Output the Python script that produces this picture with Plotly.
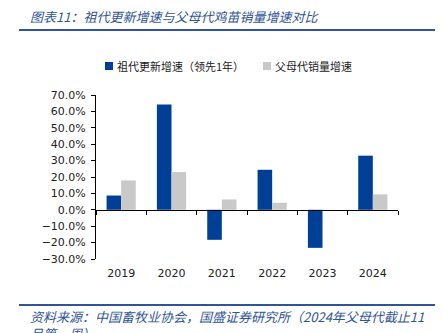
import plotly.graph_objects as go

years = ["2019", "2020", "2021", "2022", "2023", "2024"]
gp_growth = [8.7, 64.2, -18.3, 24.4, -23.2, 33.0]
pp_growth = [17.9, 23.0, 6.3, 4.3, 0.0, 9.4]
name_gp = "祖代更新增速（领先1年）"
name_pp = "父母代销量增速"
title_text = "图表11：祖代更新增速与父母代鸡苗销量增速对比"
source_lines = ["资料来源：中国畜牧业协会，国盛证券研究所（2024年父母代截止11", "月第一周）"]

W, H = 446, 333
L, R, T, B = 96, 48, 95, 74
pw, ph = W - L - R, H - T - B
def px(x): return (x - L) / pw
def py(y): return (H - B - y) / ph

cjk = "Noto Sans CJK SC"
blue = "#003f96"
gray = "#c9c9c9"
tcol = "#2f5597"

fig = go.Figure()
fig.add_trace(go.Bar(x=years, y=gp_growth, name=name_gp, marker=dict(color=blue, line=dict(width=0))))
fig.add_trace(go.Bar(x=years, y=pp_growth, name=name_pp, marker=dict(color=gray, line=dict(width=0))))

fig.update_layout(
    width=W, height=H, margin=dict(l=L, r=R, t=T, b=B),
    paper_bgcolor="white", plot_bgcolor="white",
    barmode="group", bargap=0.42, bargroupgap=0,
    font=dict(family="DejaVu Sans", size=11, color="#222"),
    showlegend=False,
    xaxis=dict(showline=False, ticks="", showgrid=False, tickfont=dict(size=11, family="DejaVu Sans"),
               ticklabelstandoff=6),
    xaxis2=dict(overlaying="x", matches="x", anchor="free", position=0.3, showline=True,
                linecolor="#000", linewidth=1, ticks="outside", ticklen=4, tickcolor="#000",
                tickson="boundaries", showticklabels=False, showgrid=False),
    yaxis=dict(range=[-30, 70], dtick=10, tickformat=".1f", ticksuffix="%", showgrid=False,
               showline=True, linecolor="#000", linewidth=1, ticks="outside", ticklen=4,
               tickcolor="#000", zeroline=False, tickfont=dict(size=11, family="DejaVu Sans"),
               ticklabelstandoff=3),
)
# invisible trace to draw the zero-position category axis
fig.add_trace(go.Bar(x=years, y=[None]*len(years), xaxis="x2", showlegend=False, hoverinfo="skip"))

# custom legend
for (x0, col, name) in [(105, blue, name_gp), (263, gray, name_pp)]:
    fig.add_shape(type="rect", xref="paper", yref="paper", x0=px(x0), x1=px(x0 + 8),
                  y0=py(70), y1=py(62), fillcolor=col, line=dict(width=0))
    fig.add_annotation(xref="paper", yref="paper", x=px(x0 + 10), y=py(66), xanchor="left",
                       yanchor="middle", text=name, showarrow=False,
                       font=dict(family=cjk, size=11, color="#222"))

fig.add_annotation(xref="paper", yref="paper", x=px(28), y=py(16), xanchor="left", yanchor="middle",
                   text=f"<i>{title_text}</i>", showarrow=False,
                   font=dict(family=cjk, size=13, color=tcol))
fig.add_shape(type="line", xref="paper", yref="paper", x0=px(19), x1=px(435), y0=py(30), y1=py(30),
              line=dict(color="#2f5597", width=2))
fig.add_shape(type="line", xref="paper", yref="paper", x0=px(19), x1=px(435), y0=py(305), y1=py(305),
              line=dict(color="#2f5597", width=2))
for i, line in enumerate(source_lines):
    fig.add_annotation(xref="paper", yref="paper", x=px(28), y=py(316 + 17 * i), xanchor="left",
                       yanchor="middle", text=f"<i>{line}</i>", showarrow=False, align="left",
                       font=dict(family=cjk, size=13, color=tcol))

fig.write_html("out.html")
